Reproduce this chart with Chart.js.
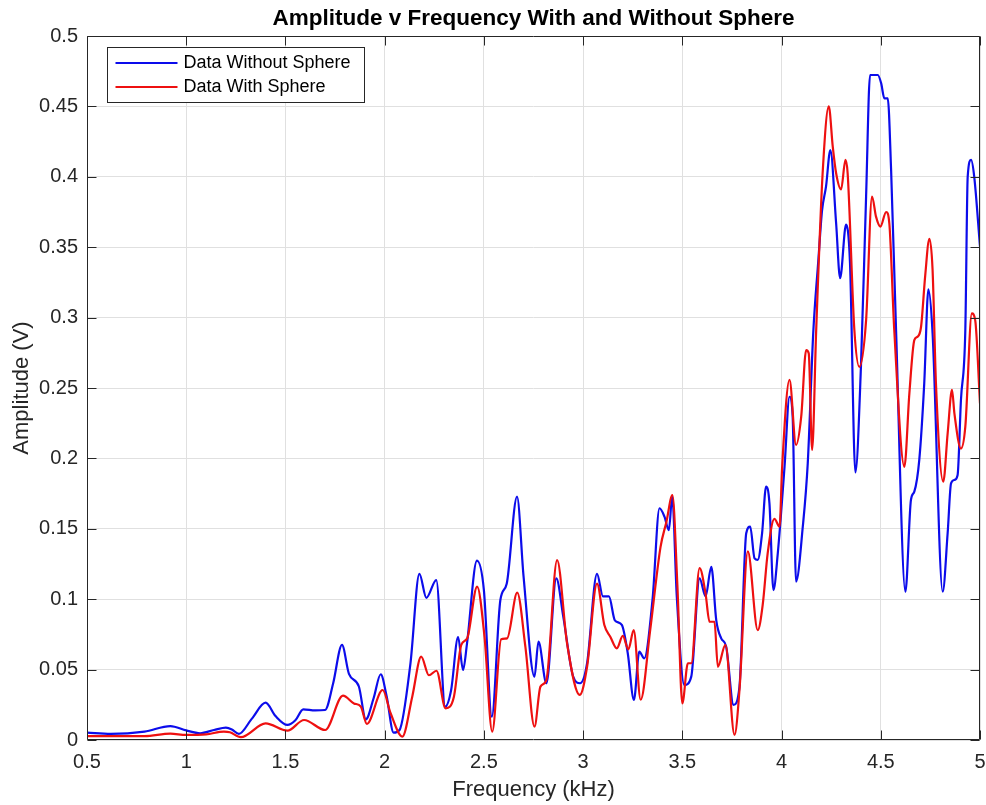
<!DOCTYPE html>
<html>
<head>
<meta charset="utf-8">
<title>Amplitude v Frequency</title>
<script src="https://cdn.jsdelivr.net/npm/chart.js@4"></script>
<style>
  html, body { margin: 0; padding: 0; background: #fff; }
  canvas { display: block; }
</style>
</head>
<body>
<canvas id="ampChart" width="986" height="805"></canvas>
<script>
// Measured spectra (frequency in kHz, amplitude in V)
const noSphereFreq = [
  0.5, 0.62, 0.79, 0.92, 1.0, 1.07, 1.14, 1.2, 1.23, 1.265, 1.33, 1.4, 1.45, 1.51, 1.55, 1.59,
  1.65, 1.7, 1.74, 1.785, 1.82, 1.87, 1.905, 1.945, 1.98, 2.01, 2.045, 2.075, 2.13, 2.175, 2.21,
  2.26, 2.305, 2.335, 2.37, 2.395, 2.415, 2.465, 2.5, 2.54, 2.583, 2.615, 2.667, 2.7, 2.755,
  2.775, 2.815, 2.865, 2.9, 2.95, 2.985, 3.02, 3.07, 3.1, 3.13, 3.16, 3.195, 3.225, 3.256,
  3.283, 3.308, 3.35, 3.385, 3.41, 3.432, 3.449, 3.472, 3.51, 3.545, 3.587, 3.617, 3.646,
  3.671, 3.696, 3.721, 3.758, 3.788, 3.822, 3.842, 3.864, 3.88, 3.902, 3.922, 3.939, 3.959,
  3.981, 4.015, 4.04, 4.056, 4.073, 4.107, 4.132, 4.16, 4.185, 4.204, 4.224, 4.246, 4.275,
  4.295, 4.325, 4.345, 4.372, 4.4, 4.426, 4.446, 4.485, 4.502, 4.518, 4.535, 4.552, 4.577,
  4.624, 4.652, 4.669, 4.694, 4.719, 4.74, 4.761, 4.812, 4.837, 4.854, 4.871, 4.887, 4.904,
  4.926, 4.938, 4.955, 4.971, 5.0
];
const noSphereAmp = [
  0.0052, 0.0043, 0.006, 0.0099, 0.0068, 0.0048, 0.0071, 0.0088, 0.0075, 0.0043, 0.015, 0.0265, 0.017, 0.0107, 0.014, 0.0218,
  0.021, 0.0213, 0.04, 0.0675, 0.047, 0.038, 0.0147, 0.03, 0.0467, 0.031, 0.0052, 0.0071, 0.0545, 0.118, 0.101,
  0.1136, 0.0237, 0.0355, 0.073, 0.0497, 0.0687, 0.1274, 0.1065, 0.0166, 0.0994, 0.111, 0.1728, 0.116, 0.045,
  0.0698, 0.0403, 0.1148, 0.0876, 0.045, 0.0403, 0.0545, 0.118, 0.102, 0.102, 0.085, 0.0817, 0.0616, 0.0284,
  0.0627, 0.058, 0.1, 0.1646, 0.1586, 0.149, 0.1728, 0.102, 0.039, 0.045, 0.1148, 0.102, 0.123,
  0.085, 0.0722, 0.0663, 0.0249, 0.0379, 0.1468, 0.1515, 0.129, 0.128, 0.147, 0.18, 0.168, 0.1065,
  0.1326, 0.194, 0.2438, 0.2296, 0.1124, 0.1515, 0.1965, 0.29, 0.34, 0.376, 0.393, 0.419, 0.367,
  0.328, 0.366, 0.3385, 0.19, 0.265, 0.386, 0.4723, 0.4723, 0.4664, 0.4557, 0.4557, 0.405, 0.291,
  0.1053, 0.1705, 0.1764, 0.199, 0.2533, 0.32, 0.289, 0.1053, 0.147, 0.1823, 0.1847, 0.188, 0.2415,
  0.291, 0.4, 0.412, 0.4, 0.3504
];

const sphereFreq = [
  0.5, 0.79, 0.92, 1.0, 1.1, 1.19, 1.22, 1.275, 1.4, 1.51, 1.594, 1.7, 1.79, 1.845, 1.88, 1.91,
  1.99, 2.03, 2.089, 2.139, 2.184, 2.223, 2.261, 2.307, 2.349, 2.386, 2.416, 2.466, 2.503, 2.542,
  2.587, 2.617, 2.668, 2.709, 2.755, 2.785, 2.815, 2.869, 2.919, 2.983, 3.02, 3.07, 3.107, 3.137,
  3.17, 3.2, 3.228, 3.255, 3.29, 3.338, 3.39, 3.42, 3.45, 3.475, 3.5, 3.528, 3.545, 3.587, 3.617,
  3.637, 3.662, 3.679, 3.717, 3.763, 3.788, 3.83, 3.88, 3.905, 3.93, 3.964, 3.99, 4.003, 4.04,
  4.073, 4.099, 4.124, 4.137, 4.154, 4.174, 4.182, 4.207, 4.238, 4.258, 4.275, 4.3, 4.322, 4.333,
  4.367, 4.392, 4.426, 4.456, 4.476, 4.498, 4.527, 4.543, 4.568, 4.619, 4.644, 4.669, 4.686,
  4.703, 4.724, 4.745, 4.761, 4.778, 4.815, 4.837, 4.859, 4.871, 4.904, 4.926, 4.959, 4.976, 5.0
];
const sphereAmp = [
  0.0028, 0.0028, 0.0045, 0.0036, 0.004, 0.006, 0.0055, 0.002, 0.0118, 0.0066, 0.0142, 0.0071, 0.0315, 0.026, 0.0237, 0.0114,
  0.0355, 0.019, 0.0024, 0.0308, 0.0592, 0.046, 0.0492, 0.0225, 0.0308, 0.0675, 0.0722, 0.109, 0.0734, 0.0059,
  0.0715, 0.0722, 0.1046, 0.0663, 0.0095, 0.0379, 0.0426, 0.1278, 0.0687, 0.032, 0.052, 0.111, 0.0817, 0.0734,
  0.0651, 0.0739, 0.0644, 0.078, 0.0286, 0.078, 0.137, 0.155, 0.174, 0.11, 0.026, 0.0545, 0.0545, 0.122, 0.104,
  0.084, 0.084, 0.052, 0.0675, 0.0036, 0.0355, 0.134, 0.078, 0.096, 0.1326, 0.157, 0.1515, 0.194, 0.2557,
  0.2095, 0.2296, 0.277, 0.2746, 0.206, 0.289, 0.3196, 0.4025, 0.45, 0.4214, 0.4025, 0.391, 0.412, 0.4025,
  0.291, 0.265, 0.298, 0.386, 0.3717, 0.3646, 0.375, 0.367, 0.291, 0.194, 0.246, 0.284, 0.2865,
  0.2935, 0.33, 0.356, 0.334, 0.2533, 0.1835, 0.2178, 0.2486, 0.232, 0.207, 0.2225, 0.303, 0.298, 0.239
];

const xTicks = [0.5, 1, 1.5, 2, 2.5, 3, 3.5, 4, 4.5, 5];
const yTicks = [0, 0.05, 0.1, 0.15, 0.2, 0.25, 0.3, 0.35, 0.4, 0.45, 0.5];

const FONT = '"Liberation Sans", Helvetica, Arial, sans-serif';
const AXIS_COLOR = '#262626';
const TICK_LEN = 9;

const toPoints = (xs, ys) => xs.map((x, i) => ({ x, y: ys[i] }));

// MATLAB style box with inward ticks on all four sides
const axisBox = {
  id: 'axisBox',
  afterDatasetsDraw(chart) {
    const { ctx, chartArea: a, scales: { x, y } } = chart;
    const L = Math.round(a.left) + 0.5, R = Math.round(a.right) - 0.5;
    const T = Math.round(a.top) + 0.5, B = Math.round(a.bottom) - 0.5;
    ctx.save();
    ctx.strokeStyle = AXIS_COLOR;
    ctx.lineWidth = 1;
    ctx.beginPath();
    xTicks.forEach(v => {
      const px = Math.round(x.getPixelForValue(v)) + 0.5;
      ctx.moveTo(px, B); ctx.lineTo(px, B - TICK_LEN);
      ctx.moveTo(px, T); ctx.lineTo(px, T + TICK_LEN);
    });
    yTicks.forEach(v => {
      const py = Math.round(y.getPixelForValue(v)) + 0.5;
      ctx.moveTo(L, py); ctx.lineTo(L + TICK_LEN, py);
      ctx.moveTo(R, py); ctx.lineTo(R - TICK_LEN, py);
    });
    ctx.rect(L, T, R - L, B - T);
    ctx.stroke();
    ctx.restore();
  }
};

// boxed legend in the upper-left corner of the axes
const boxLegend = {
  id: 'boxLegend',
  afterDraw(chart) {
    const { ctx, chartArea: a } = chart;
    const left = a.left + 20.5, top = a.top + 11.5, w = 257, h = 55;
    ctx.save();
    ctx.fillStyle = '#fff';
    ctx.fillRect(left, top, w, h);
    ctx.strokeStyle = AXIS_COLOR;
    ctx.lineWidth = 1;
    ctx.strokeRect(left, top, w, h);
    ctx.font = '18px ' + FONT;
    ctx.textBaseline = 'middle';
    chart.data.datasets.forEach((ds, i) => {
      const rowY = top + 15.5 + i * 24;
      ctx.strokeStyle = ds.borderColor;
      ctx.lineWidth = 2.2;
      ctx.beginPath();
      ctx.moveTo(left + 8, rowY);
      ctx.lineTo(left + 70, rowY);
      ctx.stroke();
      ctx.fillStyle = '#000';
      ctx.fillText(ds.label, left + 76, rowY);
    });
    ctx.restore();
  }
};

new Chart(document.getElementById('ampChart'), {
  type: 'line',
  data: {
    datasets: [
      {
        label: 'Data Without Sphere',
        data: toPoints(noSphereFreq, noSphereAmp),
        borderColor: 'rgb(12, 12, 235)',
        borderWidth: 2.2,
        pointRadius: 0,
        cubicInterpolationMode: 'monotone',
        fill: false,
        order: 1
      },
      {
        label: 'Data With Sphere',
        data: toPoints(sphereFreq, sphereAmp),
        borderColor: 'rgb(238, 16, 16)',
        borderWidth: 2.2,
        pointRadius: 0,
        cubicInterpolationMode: 'monotone',
        fill: false,
        order: 0
      }
    ]
  },
  options: {
    responsive: false,
    animation: false,
    events: [],
    layout: { padding: { left: 0, right: 6, top: 0, bottom: 0 } },
    plugins: {
      legend: { display: false },
      tooltip: { enabled: false },
      title: {
        display: true,
        fullSize: false,
        text: 'Amplitude v Frequency With and Without Sphere',
        color: '#000',
        font: { family: FONT, size: 22.5, weight: 'bold' },
        padding: { top: 5, bottom: 4 }
      }
    },
    scales: {
      x: {
        type: 'linear',
        min: 0.5,
        max: 5,
        afterBuildTicks: s => { s.ticks = xTicks.map(v => ({ value: v })); },
        // keep the end labels from pushing the plot area inwards
        afterFit: s => { s.height = 65; s.paddingLeft = 0; s.paddingRight = 0; },
        ticks: {
          autoSkip: false,
          maxRotation: 0,
          padding: 10,
          color: AXIS_COLOR,
          font: { family: FONT, size: 20 },
          callback: v => String(v)
        },
        grid: { color: '#e0e0e0', drawTicks: false },
        border: { display: false },
        title: {
          display: true,
          text: 'Frequency (kHz)',
          color: AXIS_COLOR,
          font: { family: FONT, size: 22 },
          padding: { top: 0, bottom: 2 }
        }
      },
      y: {
        type: 'linear',
        min: 0,
        max: 0.5,
        afterBuildTicks: s => { s.ticks = yTicks.map(v => ({ value: v })); },
        afterFit: s => { s.width = 87; },
        ticks: {
          autoSkip: false,
          padding: 9,
          color: AXIS_COLOR,
          font: { family: FONT, size: 20 },
          callback: v => String(v)
        },
        grid: { color: '#e0e0e0', drawTicks: false },
        border: { display: false },
        title: {
          display: true,
          text: 'Amplitude (V)',
          color: AXIS_COLOR,
          font: { family: FONT, size: 22 },
          padding: { top: 9, bottom: 0 }
        }
      }
    }
  },
  plugins: [axisBox, boxLegend]
});
</script>
</body>
</html>
